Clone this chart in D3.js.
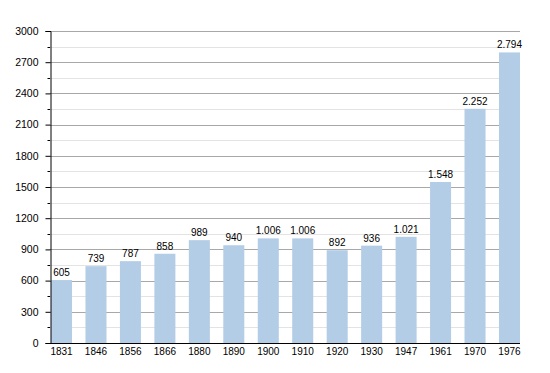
<!DOCTYPE html>
<html>
<head>
<meta charset="utf-8">
<script src="https://cdn.jsdelivr.net/npm/d3@7"></script>
<style>
  body { margin: 0; background: #fff; }
  text { font-family: "Liberation Sans", Arial, sans-serif; fill: #000; }
</style>
</head>
<body>
<svg id="chart" width="550" height="373"></svg>
<script>
// census years and population
var years = ["1831", "1846", "1856", "1866", "1880", "1890", "1900", "1910", "1920", "1930", "1947", "1961", "1970", "1976"];
var population = [605, 739, 787, 858, 989, 940, 1006, 1006, 892, 936, 1021, 1548, 2252, 2794];
var majorTicks = [0, 300, 600, 900, 1200, 1500, 1800, 2100, 2400, 2700, 3000];
var minorTicks = [150, 450, 750, 1050, 1350, 1650, 1950, 2250, 2550, 2850];

// note: "top" clashes with window.top, hence plotTop
var svg = d3.select("#chart"),
    plotLeft = 50, plotRight = 520, plotTop = 31, plotBottom = 343;

var x = d3.scaleBand()
  .domain(years)
  .range([plotLeft + 1, plotRight])
  .paddingInner(0.39)
  .paddingOuter(0);

var y = d3.scaleLinear()
  .domain([0, 3000])
  .range([plotBottom, plotTop]);

// thousands with a dot, like the original
var fmt = d3.formatLocale({ decimal: ",", thousands: ".", grouping: [3], currency: ["", ""] }).format(",d");

function yPix(d) { return Math.round(y(d)) + 0.5; }

// gridlines
svg.append("g").selectAll("line")
  .data(minorTicks)
  .enter().append("line")
  .attr("x1", plotLeft).attr("x2", plotRight)
  .attr("y1", yPix).attr("y2", yPix)
  .attr("stroke", "#e3e3e3");

svg.append("g").selectAll("line")
  .data(majorTicks.slice(1))
  .enter().append("line")
  .attr("x1", plotLeft).attr("x2", plotRight)
  .attr("y1", yPix).attr("y2", yPix)
  .attr("stroke", "#a8a8a8");

// bars
svg.append("g").selectAll("rect")
  .data(population)
  .enter().append("rect")
  .attr("x", function(d, i) { return x(years[i]); })
  .attr("width", x.bandwidth())
  .attr("y", function(d) { return y(d); })
  .attr("height", function(d) { return plotBottom - y(d); })
  .attr("fill", "#b3cde6");

// value labels
svg.append("g").selectAll("text")
  .data(population)
  .enter().append("text")
  .attr("x", function(d, i) { return x(years[i]) + x.bandwidth() / 2; })
  .attr("y", function(d) { return y(d) - 4; })
  .attr("text-anchor", "middle")
  .style("font-size", "10px")
  .text(function(d) { return fmt(d); });

// y axis
var yAxis = svg.append("g")
  .attr("transform", "translate(" + (plotLeft + 0.5) + ",0)")
  .call(d3.axisLeft(y).tickValues(majorTicks).tickSize(5).tickPadding(7).tickFormat(d3.format("d")));
yAxis.select(".domain").attr("stroke", "#000");
yAxis.selectAll(".tick text").style("font-size", "10.5px").attr("fill", "#000");

svg.append("g").selectAll("line")
  .data(minorTicks)
  .enter().append("line")
  .attr("x1", plotLeft - 2.5).attr("x2", plotLeft)
  .attr("y1", yPix).attr("y2", yPix)
  .attr("stroke", "#000");

// x axis
var xAxis = svg.append("g")
  .attr("transform", "translate(0," + (plotBottom + 0.5) + ")")
  .call(d3.axisBottom(x).tickSize(0).tickPadding(4));
xAxis.select(".domain").attr("stroke", "#000").attr("d", "M" + plotLeft + ",0H" + plotRight);
xAxis.selectAll(".tick text").style("font-size", "10px").attr("fill", "#000");
</script>
</body>
</html>
